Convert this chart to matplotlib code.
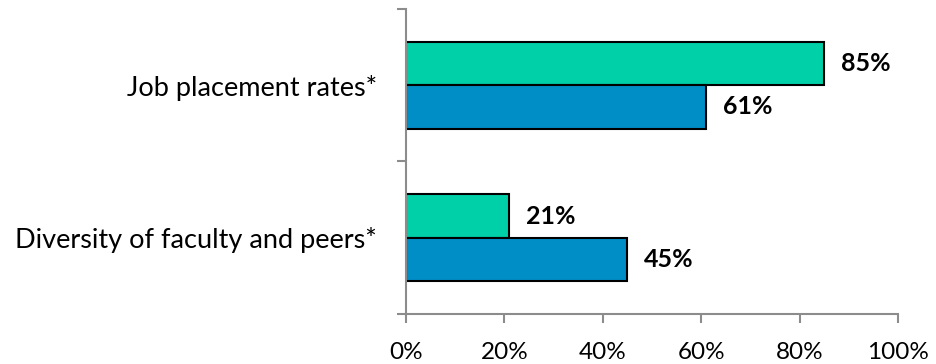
import matplotlib.pyplot as plt
import numpy as np
from matplotlib.ticker import PercentFormatter

plt.rcParams['font.family'] = ['Lato', 'DejaVu Sans']

# survey items and the two groups' shares (%)
categories = ["Job placement rates*", "Diversity of faculty and peers*"]
group_green = [85, 21]
group_blue = [61, 45]
value_labels_green = ["85%", "21%"]
value_labels_blue = ["61%", "45%"]

fig = plt.figure(figsize=(9.37, 3.64), dpi=100)
ax = fig.add_axes([0.4333, 0.1374, 0.5251, 0.8379])

pos = np.arange(len(categories))
h = 0.285
bars_g = ax.barh(pos - h / 2, group_green, height=h, color="#00D0A8",
                 edgecolor="black", linewidth=1.5)
bars_b = ax.barh(pos + h / 2, group_blue, height=h, color="#008EC6",
                 edgecolor="black", linewidth=1.5)

for bars, labels in [(bars_g, value_labels_green), (bars_b, value_labels_blue)]:
    ax.bar_label(bars, labels=labels, padding=12, fontsize=18,
                 fontweight="bold", color="black")

ax.set_xlim(0, 100)
ax.set_ylim(len(categories) - 0.5, -0.5)
ax.set_xticks(np.arange(0, 101, 20))
ax.xaxis.set_major_formatter(PercentFormatter(decimals=0))

ax.set_yticks(pos)
ax.set_yticklabels(categories)
ax.set_yticks(np.arange(-0.5, len(categories), 1.0), minor=True)

for s in ["top", "right"]:
    ax.spines[s].set_visible(False)
for s in ["left", "bottom"]:
    ax.spines[s].set_color("#8c8c8c")
    ax.spines[s].set_linewidth(1.5)

ax.tick_params(axis="y", which="major", length=0, pad=21, labelsize=19.5)
ax.tick_params(axis="y", which="minor", length=6.5, width=1.5, color="#8c8c8c")
ax.tick_params(axis="x", length=6.5, width=1.5, color="#8c8c8c", pad=14, labelsize=17.5)

fig.savefig("out.png", dpi=100)
